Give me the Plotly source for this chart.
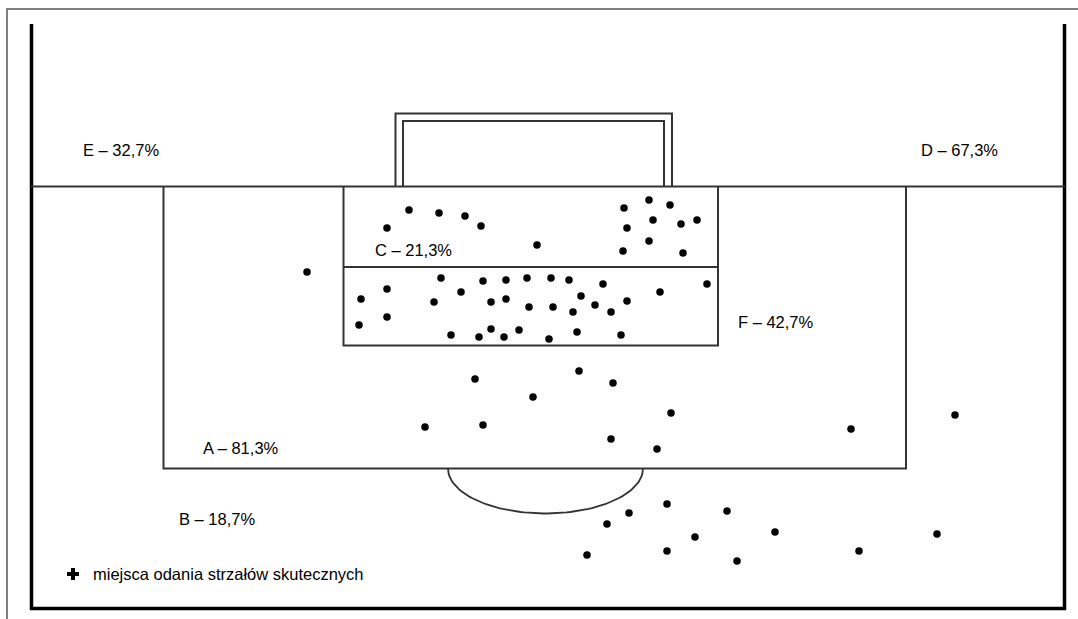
import numpy as np
import plotly.graph_objects as go

# ---- data: shot locations (diagram coordinates, y grows downward) ----
shot_x = [387, 409, 439, 465, 481, 537, 624, 627, 623, 649, 653, 649, 670, 681, 697, 683,
          361, 359, 387, 387, 441, 434, 461, 451, 483, 491, 479, 491, 506, 506, 504, 519,
          527, 529, 551, 553, 549, 569, 581, 573, 577, 595, 603, 611, 621, 627, 660, 707,
          307,
          475, 533, 579, 613, 671, 425, 483, 611, 657, 851, 955,
          667, 629, 607, 727, 695, 775, 587, 667, 737, 859, 937]
shot_y = [228, 210, 213, 216, 226, 245, 208, 228, 251, 200, 220, 241, 205, 224, 220, 253,
          299, 325, 289, 317, 278, 302, 292, 335, 281, 302, 337, 329, 280, 299, 337, 330,
          278, 307, 278, 307, 339, 280, 296, 312, 332, 305, 284, 312, 335, 301, 292, 284,
          272,
          379, 397, 371, 383, 413, 427, 425, 439, 449, 429, 415,
          504, 513, 524, 511, 537, 532, 555, 551, 561, 551, 534]

zone_labels = ["E – 32,7%", "D – 67,3%", "C – 21,3%", "F – 42,7%", "A – 81,3%", "B – 18,7%"]
label_x = [81, 919, 373, 736, 201, 177]
label_y = [150, 150, 250, 322, 448, 519]
legend_text = "miejsca odania strzałów skutecznych"

W, H = 1078, 619
FONT = "Liberation Sans Narrow, Arial Narrow, Liberation Sans, Arial, sans-serif"

fig = go.Figure()

LINE = dict(color="#333333", width=2)
THICK = dict(color="#000000", width=3.5)

shapes = []
# outer thin frame
shapes.append(dict(type="path", path="M 7,619 L 7,9 L 1078,9", line=dict(color="#555555", width=1.5)))
# pitch boundary (thick)
shapes.append(dict(type="path", path="M 31.5,24 L 31.5,608.5 L 1064.5,608.5 L 1064.5,24", line=THICK))
# goal line
shapes.append(dict(type="line", x0=31, y0=186.5, x1=1065, y1=186.5, line=LINE))
# penalty box
shapes.append(dict(type="path", path="M 163.5,186.5 L 163.5,468.5 L 906,468.5 L 906,186.5", line=LINE))
# goal area and its split
shapes.append(dict(type="path", path="M 343.5,186.5 L 343.5,345.5 L 718,345.5 L 718,186.5", line=LINE))
shapes.append(dict(type="line", x0=343.5, y0=267, x1=718, y1=267, line=LINE))
# goal (double frame)
shapes.append(dict(type="path", path="M 395.5,186 L 395.5,113.5 L 672,113.5 L 672,186", line=LINE))
shapes.append(dict(type="path", path="M 403,186 L 403,121 L 664,121 L 664,186", line=LINE))

# penalty arc (half ellipse below the box)
t = np.linspace(0, np.pi, 80)
cx, cy, rx, ry = 545.5, 468.5, 97.5, 45
fig.add_trace(go.Scatter(x=cx + rx * np.cos(t), y=cy + ry * np.sin(t), mode="lines",
                         line=dict(color="#333333", width=1.8), hoverinfo="skip", showlegend=False))

# shots
fig.add_trace(go.Scatter(x=shot_x, y=shot_y, mode="markers",
                         marker=dict(color="black", size=7.5, line=dict(width=0)),
                         showlegend=False))
# legend marker
fig.add_trace(go.Scatter(x=[73], y=[574], mode="markers",
                         marker=dict(color="black", size=10, symbol="cross", line=dict(width=0)),
                         showlegend=False))

annotations = []
for txt, x, y in zip(zone_labels, label_x, label_y):
    annotations.append(dict(x=x, y=y, text=txt, showarrow=False, xanchor="left", yanchor="middle",
                            font=dict(family=FONT, size=16.5, color="#000000")))
annotations.append(dict(x=91, y=574, text=legend_text, showarrow=False, xanchor="left", yanchor="middle",
                        font=dict(family=FONT, size=16.5, color="#000000")))

fig.update_layout(
    width=W, height=H, margin=dict(l=0, r=0, t=0, b=0),
    paper_bgcolor="white", plot_bgcolor="white",
    xaxis=dict(range=[0, W], visible=False, fixedrange=True),
    yaxis=dict(range=[H, 0], visible=False, fixedrange=True),
    shapes=shapes, annotations=annotations, showlegend=False,
)

fig.write_html("out.html", config={"displayModeBar": False},
               post_script="document.body.style.margin='0';document.body.style.overflow='hidden';")
